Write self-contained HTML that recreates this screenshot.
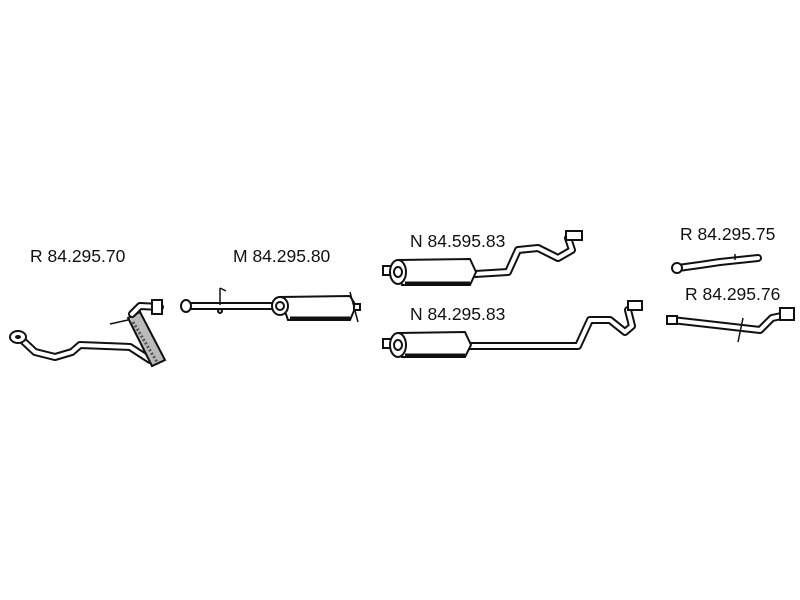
<!DOCTYPE html>
<html><head><style>
html,body{margin:0;padding:0;background:#fff;}
svg{display:block;}
text{font-family:"Liberation Sans",sans-serif;font-size:17.5px;fill:#111;}
.pb{fill:none;stroke:#111;stroke-width:8;stroke-linejoin:round;stroke-linecap:round;}
.pw{fill:none;stroke:#fff;stroke-width:4;stroke-linejoin:round;stroke-linecap:round;}
.m{fill:#fff;stroke:#111;stroke-width:2;}
</style></head><body>
<svg width="800" height="600" viewBox="0 0 800 600">
<rect width="800" height="600" fill="#fff"/>
<text x="30" y="262">R 84.295.70</text>
<text x="233" y="262">M 84.295.80</text>
<text x="410" y="247">N 84.595.83</text>
<text x="410" y="320">N 84.295.83</text>
<text x="680" y="240">R 84.295.75</text>
<text x="685" y="300">R 84.295.76</text>

<g>
<path class="pb" d="M20,338 L35,352 L55,357 L72,352 L80,345 L130,347 L150,360"/>
<path class="pw" d="M20,338 L35,352 L55,357 L72,352 L80,345 L130,347 L150,360"/>
<ellipse cx="18" cy="337" rx="8" ry="6" class="m"/>
<ellipse cx="18" cy="337" rx="3" ry="2" fill="#111"/>
<polygon points="128,318 140,312 165,360 152,366" fill="#bbb" stroke="#111" stroke-width="2"/>
<path d="M133,322 L157,362" stroke="#555" stroke-width="3" stroke-dasharray="2,2"/>
<path class="pb" d="M132,314 L140,306 L160,307"/>
<path class="pw" d="M132,314 L140,306 L160,307"/>
<rect x="152" y="300" width="10" height="14" class="m"/>
<line x1="110" y1="324" x2="128" y2="320" stroke="#111" stroke-width="1.5"/>
</g>

<g>
<path class="pb" d="M186,306 L282,306"/>
<path class="pw" d="M186,306 L282,306"/>
<ellipse cx="186" cy="306" rx="5" ry="6" class="m"/>
<line x1="220" y1="305" x2="220" y2="288" stroke="#111" stroke-width="1.5"/>
<line x1="220" y1="288" x2="226" y2="291" stroke="#111" stroke-width="1.5"/>
<circle cx="220" cy="311" r="2" class="m"/>
<path d="M280,297 L350,296 L356,306 L350,320 L288,320 Z" class="m"/>
<line x1="290" y1="318" x2="350" y2="318" stroke="#111" stroke-width="3"/>
<ellipse cx="280" cy="306" rx="8" ry="9" class="m"/>
<ellipse cx="280" cy="306" rx="4" ry="4" class="m"/>
<line x1="350" y1="292" x2="358" y2="322" stroke="#111" stroke-width="1.5"/>
<rect x="354" y="304" width="6" height="6" class="m"/>
</g>

<g>
<path class="pb" d="M475,274 L508,272 L518,250 L538,248 L558,258 L572,250 L568,238"/>
<path class="pw" d="M475,274 L508,272 L518,250 L538,248 L558,258 L572,250 L568,238"/>
<rect x="566" y="231" width="16" height="9" class="m"/>
<rect x="383" y="266" width="14" height="9" class="m"/>
<path d="M398,260 L470,259 L476,272 L470,285 L402,285 Z" class="m"/>
<line x1="405" y1="283" x2="470" y2="283" stroke="#111" stroke-width="3"/>
<ellipse cx="398" cy="272" rx="8" ry="12" class="m"/>
<ellipse cx="398" cy="272" rx="4" ry="5" class="m"/>
</g>

<g>
<path class="pb" d="M470,346 L578,346 L590,320 L610,320 L625,332 L632,326 L628,310"/>
<path class="pw" d="M470,346 L578,346 L590,320 L610,320 L625,332 L632,326 L628,310"/>
<rect x="628" y="301" width="14" height="9" class="m"/>
<rect x="383" y="339" width="14" height="9" class="m"/>
<path d="M398,333 L465,332 L471,345 L465,357 L402,357 Z" class="m"/>
<line x1="405" y1="355" x2="465" y2="355" stroke="#111" stroke-width="3"/>
<ellipse cx="398" cy="345" rx="8" ry="12" class="m"/>
<ellipse cx="398" cy="345" rx="4" ry="5" class="m"/>
</g>

<g>
<path class="pb" d="M678,268 L700,265 L720,262 L758,258"/>
<path class="pw" d="M678,268 L700,265 L720,262 L758,258"/>
<ellipse cx="677" cy="268" rx="5" ry="5" class="m"/>
<line x1="735" y1="260" x2="735" y2="254" stroke="#111" stroke-width="1.5"/>
</g>

<g>
<path class="pb" d="M672,320 L760,330 L772,318 L786,315"/>
<path class="pw" d="M672,320 L760,330 L772,318 L786,315"/>
<rect x="667" y="316" width="10" height="8" class="m"/>
<rect x="780" y="308" width="14" height="12" class="m"/>
<line x1="743" y1="318" x2="738" y2="342" stroke="#111" stroke-width="1.5"/>
</g>
</svg>
</body></html>
